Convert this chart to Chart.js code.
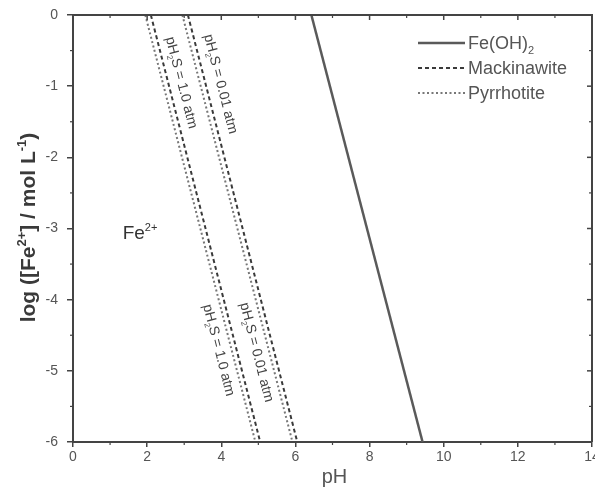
<!DOCTYPE html>
<html>
<head>
<meta charset="utf-8">
<script src="https://cdn.jsdelivr.net/npm/chart.js@4.4.1/dist/chart.umd.min.js"></script>
<style>
  html, body { margin: 0; padding: 0; background: #fff; }
</style>
</head>
<body>
<canvas id="diagram" width="595" height="489"></canvas>
<script>
// boundary lines, log[Fe2+] vs pH (end points)
const logFe = [0, -6];
const phFeOH2 = [6.43, 9.43];
const phMackHigh = [2.1, 5.05];   // pH2S = 1.0 atm
const phPyrrHigh = [1.95, 4.92];
const phMackLow = [3.1, 6.05];    // pH2S = 0.01 atm
const phPyrrLow = [2.95, 5.92];

const xTicks = [0, 2, 4, 6, 8, 10, 12, 14];
const xMinor = [1, 3, 5, 7, 9, 11, 13];
const yTicks = [0, -1, -2, -3, -4, -5, -6];
const yMinor = [-0.5, -1.5, -2.5, -3.5, -4.5, -5.5];

const axisColor = '#444';
const textColor = '#555';
const FONT = '"Liberation Sans", Arial, sans-serif';

const pts = (xs, ys) => xs.map((v, i) => ({x: v, y: ys[i]}));

function drawRich(ctx, parts, x, y, size, weight, align) {
  const fontFor = p => `${weight} ${p.s ? Math.round(size * 0.6) : size}px ${FONT}`;
  let w = 0;
  parts.forEach(p => { ctx.font = fontFor(p); w += ctx.measureText(p.t).width; });
  let cx = align === 'center' ? x - w / 2 : x;
  ctx.textAlign = 'left';
  ctx.textBaseline = 'alphabetic';
  parts.forEach(p => {
    ctx.font = fontFor(p);
    const dy = p.s === 'sup' ? -size * 0.42 : p.s === 'sub' ? size * 0.25 : 0;
    ctx.fillText(p.t, cx, y + dy);
    cx += ctx.measureText(p.t).width;
  });
}

const legendItems = [
  {ds: 0, parts: [{t: 'Fe(OH)'}, {t: '2', s: 'sub'}]},
  {ds: 1, parts: [{t: 'Mackinawite'}]},
  {ds: 2, parts: [{t: 'Pyrrhotite'}]}
];

const h2sHigh = [{t: 'pH'}, {t: '2', s: 'sub'}, {t: 'S = 1.0 atm'}];
const h2sLow = [{t: 'pH'}, {t: '2', s: 'sub'}, {t: 'S = 0.01 atm'}];
// label centres in data units
const lineLabels = [
  {x: 2.92, y: -0.95, parts: h2sHigh},
  {x: 3.98, y: -0.97, parts: h2sLow},
  {x: 3.93, y: -4.71, parts: h2sHigh},
  {x: 4.95, y: -4.74, parts: h2sLow}
];

const decor = {
  id: 'decor',
  afterDraw(chart) {
    const {ctx, chartArea: a, scales: {x, y}} = chart;
    ctx.save();
    ctx.strokeStyle = axisColor;
    const seg = (x1, y1, x2, y2, w) => {
      ctx.lineWidth = w;
      ctx.beginPath(); ctx.moveTo(x1, y1); ctx.lineTo(x2, y2); ctx.stroke();
    };
    // top and right frame
    seg(a.left - 1, a.top, a.right + 1, a.top, 2);
    seg(a.right, a.top, a.right, a.bottom, 2);
    // mirrored ticks
    xTicks.forEach(v => { const p = x.getPixelForValue(v); seg(p, a.top, p, a.top + 5, 1.5); });
    xMinor.forEach(v => {
      const p = x.getPixelForValue(v);
      seg(p, a.top, p, a.top + 3, 1.2);
      seg(p, a.bottom, p, a.bottom + 3, 1.2);
    });
    yTicks.forEach(v => { const p = y.getPixelForValue(v); seg(a.right, p, a.right - 5, p, 1.5); });
    yMinor.forEach(v => {
      const p = y.getPixelForValue(v);
      seg(a.right, p, a.right - 3, p, 1.2);
      seg(a.left, p, a.left - 3, p, 1.2);
    });

    // axis titles
    ctx.fillStyle = textColor;
    drawRich(ctx, [{t: 'pH'}], (a.left + a.right) / 2 + 2, 483, 20, 'normal', 'center');
    ctx.save();
    ctx.translate(35, (a.top + a.bottom) / 2 - 1);
    ctx.rotate(-Math.PI / 2);
    ctx.fillStyle = '#3a3a3a';
    drawRich(ctx, [{t: 'log ([Fe'}, {t: '2+', s: 'sup'}, {t: '] / mol L'}, {t: '-1', s: 'sup'}, {t: ')'}],
      0, 0, 21, 'bold', 'center');
    ctx.restore();

    // legend
    let rowY = a.top + 28;
    legendItems.forEach(item => {
      const ds = chart.data.datasets[item.ds];
      ctx.strokeStyle = ds.borderColor;
      ctx.lineWidth = ds.borderWidth;
      ctx.setLineDash(ds.borderDash || []);
      ctx.beginPath(); ctx.moveTo(418, rowY); ctx.lineTo(465, rowY); ctx.stroke();
      ctx.setLineDash([]);
      ctx.fillStyle = textColor;
      drawRich(ctx, item.parts, 468, rowY + 6, 18, 'normal', 'left');
      rowY += 25;
    });

    // H2S pressure labels along the sulfide lines
    const ang = Math.atan2(
      y.getPixelForValue(-6) - y.getPixelForValue(0),
      x.getPixelForValue(phMackHigh[1]) - x.getPixelForValue(phMackHigh[0]));
    ctx.fillStyle = '#444';
    lineLabels.forEach(l => {
      ctx.save();
      ctx.translate(x.getPixelForValue(l.x), y.getPixelForValue(l.y));
      ctx.rotate(ang);
      drawRich(ctx, l.parts, 0, 4, 14, 'normal', 'center');
      ctx.restore();
    });

    // stability field
    ctx.fillStyle = '#333';
    drawRich(ctx, [{t: 'Fe'}, {t: '2+', s: 'sup'}], x.getPixelForValue(1.34), y.getPixelForValue(-3.15), 19, 'normal', 'left');
    ctx.restore();
  }
};

new Chart(document.getElementById('diagram'), {
  type: 'line',
  data: {
    datasets: [
      {label: 'Fe(OH)2', data: pts(phFeOH2, logFe), borderColor: '#5a5a5a', borderWidth: 2.5},
      {label: 'Mackinawite', data: pts(phMackHigh, logFe), borderColor: '#3a3a3a', borderWidth: 2, borderDash: [4, 3]},
      {label: 'Pyrrhotite', data: pts(phPyrrHigh, logFe), borderColor: '#777', borderWidth: 2, borderDash: [2, 2.5]},
      {label: 'Mackinawite', data: pts(phMackLow, logFe), borderColor: '#3a3a3a', borderWidth: 2, borderDash: [4, 3]},
      {label: 'Pyrrhotite', data: pts(phPyrrLow, logFe), borderColor: '#777', borderWidth: 2, borderDash: [2, 2.5]}
    ]
  },
  options: {
    responsive: false,
    animation: false,
    layout: {padding: {top: 15, right: 3, left: 0, bottom: 0}},
    elements: {point: {radius: 0}, line: {tension: 0}},
    plugins: {legend: {display: false}, tooltip: {enabled: false}},
    scales: {
      x: {
        type: 'linear',
        min: 0, max: 14,
        afterBuildTicks: s => { s.ticks = xTicks.map(v => ({value: v})); },
        afterFit: s => { s.height = 47; s.paddingLeft = 0; s.paddingRight = 0; },
        ticks: {color: textColor, font: {family: FONT, size: 14}, padding: 2, maxRotation: 0, autoSkip: false},
        grid: {drawOnChartArea: false, color: axisColor, lineWidth: 1.5, tickLength: 5},
        border: {display: true, color: axisColor, width: 2}
      },
      y: {
        type: 'linear',
        min: -6, max: 0,
        afterBuildTicks: s => { s.ticks = yTicks.map(v => ({value: v})); },
        afterFit: s => { s.width = 73; s.paddingTop = 0; s.paddingBottom = 0; },
        ticks: {color: textColor, font: {family: FONT, size: 14}, padding: 9, autoSkip: false},
        grid: {drawOnChartArea: false, color: axisColor, lineWidth: 1.5, tickLength: 6},
        border: {display: true, color: axisColor, width: 2}
      }
    }
  },
  plugins: [decor]
});
</script>
</body>
</html>
